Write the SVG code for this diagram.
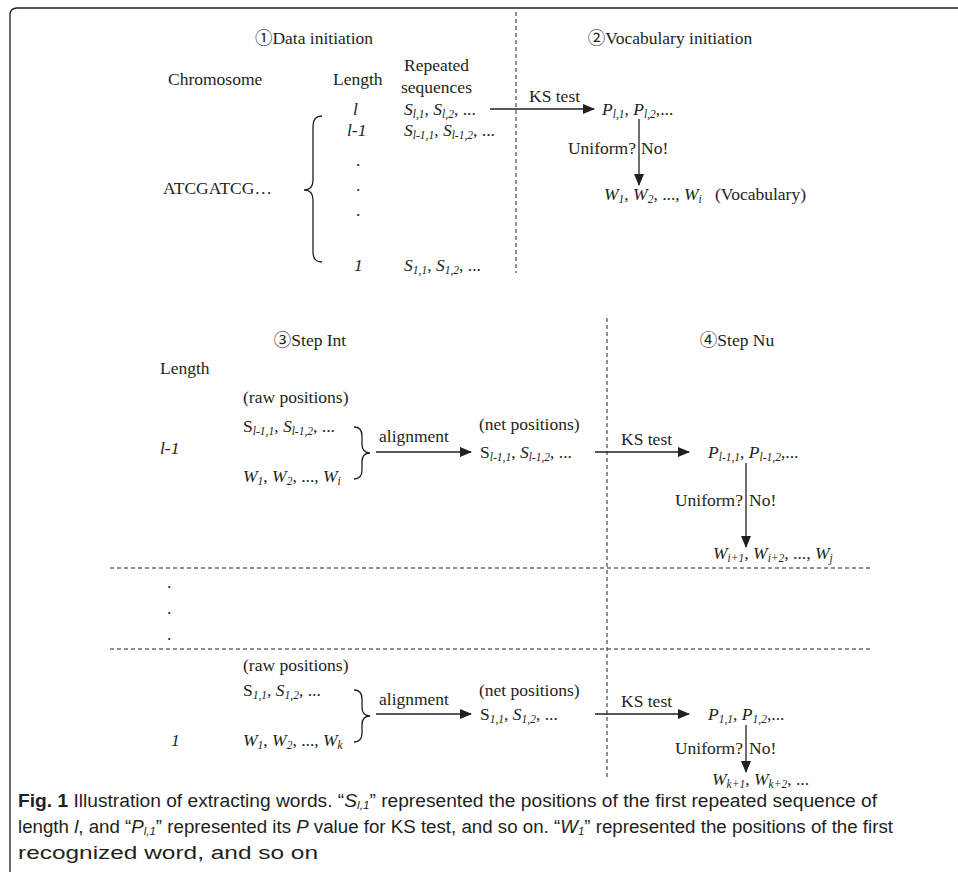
<svg xmlns="http://www.w3.org/2000/svg" width="958" height="872" viewBox="0 0 958 872">
<style>
text{font-family:"Liberation Serif","Noto Sans CJK SC",serif;font-size:17.5px;fill:#231f20}
.i{font-style:italic}
.s{font-style:italic;font-size:11.5px}
.cap{font-family:"Liberation Sans","Open Sans",sans-serif;font-size:18px}
.ln{stroke:#231f20;stroke-width:1.3;fill:none}
.ar{stroke:#231f20;stroke-width:1.3;fill:none;marker-end:url(#ah)}
.da{stroke:#231f20;stroke-width:1;stroke-dasharray:4 3;fill:none}
.br{stroke:#231f20;stroke-width:1.3;fill:none}
</style>
<defs>
<marker id="ah" markerWidth="12" markerHeight="10" refX="11" refY="5" orient="auto" markerUnits="userSpaceOnUse">
<path d="M0,0 L12,5 L0,10 Z" fill="#231f20"/>
</marker>
</defs>
<rect width="958" height="872" fill="#fff"/>
<path class="ln" d="M10,872 V15 Q10,8 17,8 H958" stroke-width="2"/>

<g id="connectors">
<line class="da" x1="516" y1="12" x2="516" y2="273"/>
<line class="da" x1="607" y1="318" x2="607" y2="778"/>
<line class="da" x1="110" y1="568" x2="870" y2="568"/>
<line class="da" x1="110" y1="649" x2="870" y2="649"/>
<line class="ar" x1="490" y1="109" x2="594" y2="109"/>
<line class="ar" x1="639" y1="119" x2="639" y2="185"/>
<line class="ar" x1="376" y1="452" x2="471" y2="452"/>
<line class="ar" x1="595" y1="452" x2="689" y2="452"/>
<line class="ar" x1="746" y1="463" x2="746" y2="547"/>
<line class="ar" x1="376" y1="714" x2="471" y2="714"/>
<line class="ar" x1="595" y1="714" x2="689" y2="714"/>
<line class="ar" x1="746" y1="725" x2="746" y2="772"/>
</g>

<g id="data-initiation">
<text x="314" y="44" text-anchor="middle">①Data initiation</text>
<text x="168" y="85">Chromosome</text>
<text x="333" y="85">Length</text>
<text x="404" y="71">Repeated</text>
<text x="401" y="93">sequences</text>
<text x="163" y="194">ATCGATCG…</text>
<path class="br" d="M322,116 Q313,116 313,126 V180 Q313,190 304,190 Q313,190 313,200 V252 Q313,262 322,262"/>
<text x="353" y="115" class="i">l</text>
<text x="404" y="115"><tspan class="i">S</tspan><tspan class="s" dy="3">l,1</tspan><tspan dy="-3">, </tspan><tspan class="i">S</tspan><tspan class="s" dy="3">l,2</tspan><tspan dy="-3">, ...</tspan></text>
<text x="347" y="136" class="i">l-1</text>
<text x="404" y="136"><tspan class="i">S</tspan><tspan class="s" dy="3">l-1,1</tspan><tspan dy="-3">, </tspan><tspan class="i">S</tspan><tspan class="s" dy="3">l-1,2</tspan><tspan dy="-3">, ...</tspan></text>
<text x="356" y="166">.</text>
<text x="356" y="191">.</text>
<text x="356" y="216">.</text>
<text x="354" y="271" class="i">1</text>
<text x="404" y="271"><tspan class="i">S</tspan><tspan class="s" dy="3">1,1</tspan><tspan dy="-3">, </tspan><tspan class="i">S</tspan><tspan class="s" dy="3">1,2</tspan><tspan dy="-3">, ...</tspan></text>
</g>

<g id="vocabulary-initiation">
<text x="670" y="44" text-anchor="middle">②Vocabulary initiation</text>
<text x="529" y="102">KS test</text>
<text x="602" y="115"><tspan class="i">P</tspan><tspan class="s" dy="3">l,1</tspan><tspan dy="-3">, </tspan><tspan class="i">P</tspan><tspan class="s" dy="3">l,2</tspan><tspan dy="-3">,...</tspan></text>
<text x="636" y="154" text-anchor="end">Uniform?</text>
<text x="641" y="154">No!</text>
<text x="604" y="200"><tspan class="i">W</tspan><tspan class="s" dy="3">1</tspan><tspan dy="-3">, </tspan><tspan class="i">W</tspan><tspan class="s" dy="3">2</tspan><tspan dy="-3">, ..., </tspan><tspan class="i">W</tspan><tspan class="s" dy="3">i</tspan><tspan dy="-3">&#160;&#160;&#160;(Vocabulary)</tspan></text>
</g>

<g id="step-int">
<text x="310" y="346" text-anchor="middle">③Step Int</text>
<text x="160" y="374">Length</text>
<text x="160" y="454" class="i">l-1</text>
<text x="243" y="403">(raw positions)</text>
<text x="243" y="432">S<tspan class="s" dy="3">l-1,1</tspan><tspan dy="-3">, </tspan><tspan class="i">S</tspan><tspan class="s" dy="3">l-1,2</tspan><tspan dy="-3">, ...</tspan></text>
<text x="243" y="482"><tspan class="i">W</tspan><tspan class="s" dy="3">1</tspan><tspan dy="-3">, </tspan><tspan class="i">W</tspan><tspan class="s" dy="3">2</tspan><tspan dy="-3">, ..., </tspan><tspan class="i">W</tspan><tspan class="s" dy="3">i</tspan></text>
<path class="br" d="M354,427 Q362,427 362,436 V444 Q362,453 370,453 Q362,453 362,462 V470 Q362,479 354,479"/>
<text x="379" y="442">alignment</text>
<text x="479" y="430">(net positions)</text>
<text x="480" y="458">S<tspan class="s" dy="3">l-1,1</tspan><tspan dy="-3">, </tspan><tspan class="i">S</tspan><tspan class="s" dy="3">l-1,2</tspan><tspan dy="-3">, ...</tspan></text>
<text x="167" y="588">.</text>
<text x="167" y="614">.</text>
<text x="167" y="640">.</text>
<text x="243" y="671">(raw positions)</text>
<text x="243" y="696">S<tspan class="s" dy="3">1,1</tspan><tspan dy="-3">, </tspan><tspan class="i">S</tspan><tspan class="s" dy="3">1,2</tspan><tspan dy="-3">, ...</tspan></text>
<text x="171" y="746" class="i">1</text>
<text x="243" y="746"><tspan class="i">W</tspan><tspan class="s" dy="3">1</tspan><tspan dy="-3">, </tspan><tspan class="i">W</tspan><tspan class="s" dy="3">2</tspan><tspan dy="-3">, ..., </tspan><tspan class="i">W</tspan><tspan class="s" dy="3">k</tspan></text>
<path class="br" d="M354,690 Q362,690 362,699 V707 Q362,716 370,716 Q362,716 362,725 V733 Q362,742 354,742"/>
<text x="379" y="705">alignment</text>
<text x="479" y="696">(net positions)</text>
<text x="480" y="720">S<tspan class="s" dy="3">1,1</tspan><tspan dy="-3">, </tspan><tspan class="i">S</tspan><tspan class="s" dy="3">1,2</tspan><tspan dy="-3">, ...</tspan></text>
</g>

<g id="step-nu">
<text x="737" y="346" text-anchor="middle">④Step Nu</text>
<text x="621" y="445">KS test</text>
<text x="708" y="458"><tspan class="i">P</tspan><tspan class="s" dy="3">l-1,1</tspan><tspan dy="-3">, </tspan><tspan class="i">P</tspan><tspan class="s" dy="3">l-1,2</tspan><tspan dy="-3">,...</tspan></text>
<text x="743" y="506" text-anchor="end">Uniform?</text>
<text x="749" y="506">No!</text>
<text x="713" y="559"><tspan class="i">W</tspan><tspan class="s" dy="3">i+1</tspan><tspan dy="-3">, </tspan><tspan class="i">W</tspan><tspan class="s" dy="3">i+2</tspan><tspan dy="-3">, ..., </tspan><tspan class="i">W</tspan><tspan class="s" dy="3">j</tspan></text>
<text x="621" y="707">KS test</text>
<text x="708" y="720"><tspan class="i">P</tspan><tspan class="s" dy="3">1,1</tspan><tspan dy="-3">, </tspan><tspan class="i">P</tspan><tspan class="s" dy="3">1,2</tspan><tspan dy="-3">,...</tspan></text>
<text x="743" y="754" text-anchor="end">Uniform?</text>
<text x="749" y="754">No!</text>
<text x="712" y="785"><tspan class="i">W</tspan><tspan class="s" dy="3">k+1</tspan><tspan dy="-3">, </tspan><tspan class="i">W</tspan><tspan class="s" dy="3">k+2</tspan><tspan dy="-3">, ...</tspan></text>
</g>

<g id="caption">
<text class="cap" x="18" y="807" textLength="859" lengthAdjust="spacingAndGlyphs"><tspan font-weight="bold">Fig. 1</tspan> Illustration of extracting words. “<tspan font-style="italic">S</tspan><tspan font-style="italic" font-size="11" dy="2">l,1</tspan><tspan dy="-2">” represented the positions of the first repeated sequence of</tspan></text>
<text class="cap" x="18" y="833" textLength="875" lengthAdjust="spacingAndGlyphs">length <tspan font-style="italic">l</tspan>, and “<tspan font-style="italic">P</tspan><tspan font-style="italic" font-size="11" dy="2">l,1</tspan><tspan dy="-2">” represented its </tspan><tspan font-style="italic">P</tspan> value for KS test, and so on. “<tspan font-style="italic">W</tspan><tspan font-style="italic" font-size="11" dy="2">1</tspan><tspan dy="-2">” represented the positions of the first</tspan></text>
<text class="cap" x="18" y="859" textLength="300" lengthAdjust="spacingAndGlyphs">recognized word, and so on</text>
</g>
</svg>
